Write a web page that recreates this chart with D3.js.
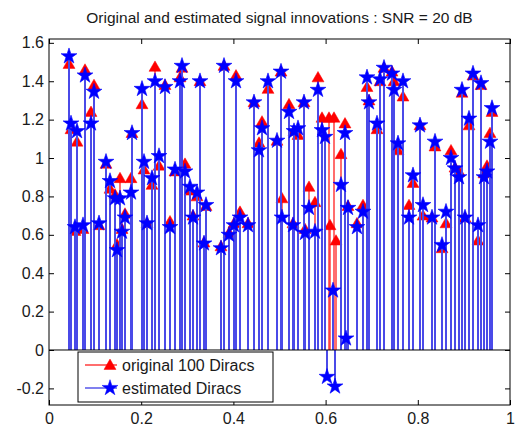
<!DOCTYPE html>
<html>
<head>
<script src="https://cdnjs.cloudflare.com/ajax/libs/d3/7.8.5/d3.min.js"></script>
<style>
body { margin: 0; background: #fff; }
text { font-family: "Liberation Sans", Arial, sans-serif; fill: #1a1a1a; }
</style>
</head>
<body>
<script>

// data
var diracPos = [0.043,0.048,0.056,0.061,0.074,0.078,0.091,0.098,0.108,0.124,
                0.132,0.143,0.148,0.154,0.158,0.165,0.178,0.180,0.202,0.206,
                0.213,0.223,0.230,0.239,0.252,0.262,0.273,0.284,0.289,0.295,
                0.306,0.312,0.321,0.328,0.336,0.341,0.373,0.380,0.390,0.401,
                0.406,0.414,0.432,0.445,0.456,0.462,0.475,0.495,0.503,0.505,
                0.521,0.529,0.531,0.540,0.553,0.555,0.564,0.577,0.584,0.592,
                0.633,0.642,0.649,0.668,0.681,0.690,0.694,0.711,0.718,0.727,
                0.744,0.748,0.757,0.768,0.781,0.790,0.805,0.811,0.831,0.837,
                0.852,0.861,0.872,0.881,0.889,0.896,0.902,0.911,0.920,0.931,
                0.937,0.944,0.950,0.957,0.962];

var original = [1.49,1.15,0.62,1.085,0.63,1.46,1.24,1.38,0.65,0.97,
                0.84,0.81,0.55,0.895,0.63,0.71,0.895,1.13,1.28,0.94,
                0.66,0.86,1.475,0.96,1.38,0.67,0.93,1.42,1.47,0.97,
                0.83,0.70,0.80,1.40,0.56,0.75,0.54,1.48,0.61,0.66,
                1.43,0.72,0.66,1.29,1.08,1.19,1.36,1.09,1.45,0.79,
                1.28,0.66,1.14,1.12,1.29,0.63,0.85,0.77,1.42,1.21,
                1.02,1.18,0.75,0.66,0.755,1.37,1.30,1.15,1.40,1.47,
                1.45,1.40,1.04,1.32,0.755,0.87,1.17,0.70,0.69,1.06,
                0.53,0.66,1.04,0.95,0.93,1.34,0.69,1.17,1.43,0.57,
                1.38,0.92,0.96,1.13,1.24];

var estimated = [1.53,1.18,0.64,1.14,0.65,1.43,1.18,1.345,0.66,0.98,
                 0.88,0.79,0.52,0.79,0.616,0.69,0.82,1.13,1.36,0.98,
                 0.66,0.895,1.40,1.01,1.37,0.64,0.94,1.40,1.48,0.93,
                 0.85,0.69,0.82,1.40,0.555,0.755,0.53,1.48,0.60,0.65,
                 1.40,0.69,0.65,1.29,1.04,1.155,1.40,1.09,1.45,0.69,
                 1.24,0.65,1.14,1.155,1.29,0.61,0.74,0.616,1.355,1.145,
                 0.86,1.13,0.74,0.64,0.72,1.42,1.29,1.18,1.41,1.47,
                 1.44,1.355,1.076,1.40,0.69,0.91,1.17,0.755,0.69,1.085,
                 0.547,0.72,1.00,0.946,0.90,1.355,0.69,1.205,1.44,0.65,
                 1.39,0.90,0.93,1.085,1.26];

// around x = 0.6 the two sets do not pair up
var extraOrigPos = [0.607,0.610,0.618,0.623];
var extraOrigAmp = [1.21,0.65,1.21,0.57];
var extraEstPos = [0.599,0.603,0.616,0.620,0.644];
var extraEstAmp = [1.11,-0.14,0.31,-0.19,0.06];

var xTicks = [0,0.2,0.4,0.6,0.8,1];
var yTicks = [-0.2,0,0.2,0.4,0.6,0.8,1,1.2,1.4,1.6];

var titleText = "Original and estimated signal innovations : SNR = 20 dB";
var legendNames = ["original 100 Diracs","estimated Diracs"];

// layout
var width = 528, height = 430,
    plotL = 49, plotR = 510, plotT = 39, plotB = 405;

var origData = diracPos.map(function(p,i){ return {x:p, y:original[i]}; })
    .concat(extraOrigPos.map(function(p,i){ return {x:p, y:extraOrigAmp[i]}; }));
var estData = diracPos.map(function(p,i){ return {x:p, y:estimated[i]}; })
    .concat(extraEstPos.map(function(p,i){ return {x:p, y:extraEstAmp[i]}; }));

var xScale = d3.scaleLinear().domain([0,1]).range([plotL,plotR]);
var yScale = d3.scaleLinear().domain([-0.2865,1.62]).range([plotB,plotT]);
var sx = function(d){ return Math.round(xScale(d.x)); };

var svg = d3.select("body").append("svg")
    .attr("width", width).attr("height", height);

svg.append("rect").attr("width",width).attr("height",height).attr("fill","#fff");

var fmt = function(d){ return String(+d.toFixed(1)); };

// axes, ticks pointing inward
var gx = svg.append("g").attr("transform","translate(0,"+plotB+")")
    .call(d3.axisBottom(xScale).tickValues(xTicks).tickSize(-5).tickPadding(8).tickFormat(fmt));
var gxt = svg.append("g").attr("transform","translate(0,"+plotT+")")
    .call(d3.axisTop(xScale).tickValues(xTicks).tickSize(-5).tickFormat(""));
var gy = svg.append("g").attr("transform","translate("+plotL+",0)")
    .call(d3.axisLeft(yScale).tickValues(yTicks).tickSize(-5).tickPadding(5).tickFormat(fmt));
var gyr = svg.append("g").attr("transform","translate("+plotR+",0)")
    .call(d3.axisRight(yScale).tickValues(yTicks).tickSize(-5).tickFormat(""));

[gx,gxt,gy,gyr].forEach(function(g){
  g.select(".domain").remove();
  g.selectAll(".tick line").attr("stroke","#000");
  g.selectAll("text").style("font-size","16px").attr("fill","#1a1a1a");
});

// stems: red first, blue drawn over them
var stems = svg.append("g");
stems.selectAll(".rs").data(origData).enter().append("line")
    .attr("x1",sx).attr("x2",sx)
    .attr("y1",yScale(0))
    .attr("y2",function(d){ return yScale(d.y); })
    .attr("stroke","#ff3030").attr("stroke-width",1.4);

var tri = d3.symbol().type(d3.symbolTriangle).size(62);
stems.selectAll(".rm").data(origData).enter().append("path")
    .attr("d",tri)
    .attr("transform",function(d){ return "translate("+sx(d)+","+(yScale(d.y)+1)+")"; })
    .attr("fill","#ff0000").attr("stroke","#ff0000").attr("stroke-width",0.5);

stems.selectAll(".bs").data(estData).enter().append("line")
    .attr("x1",sx).attr("x2",sx)
    .attr("y1",yScale(0))
    .attr("y2",function(d){ return yScale(d.y); })
    .attr("stroke","#4a4ae8").attr("stroke-width",2);

var star = d3.symbol().type(d3.symbolStar).size(78);
stems.selectAll(".bm").data(estData).enter().append("path")
    .attr("d",star)
    .attr("transform",function(d){ return "translate("+sx(d)+","+yScale(d.y)+")"; })
    .attr("fill","#0000ff").attr("stroke","#0000ff").attr("stroke-width",0.6);

// baseline
svg.append("line")
    .attr("x1",xScale(0)).attr("x2",xScale(1))
    .attr("y1",yScale(0)).attr("y2",yScale(0))
    .attr("stroke","#000").attr("stroke-width",1);

// plot box
svg.append("rect")
    .attr("x",plotL).attr("y",plotT)
    .attr("width",plotR-plotL).attr("height",plotB-plotT)
    .attr("fill","none").attr("stroke","#000").attr("stroke-width",1);

// title
svg.append("text")
    .attr("x",(plotL+plotR)/2).attr("y",23)
    .attr("text-anchor","middle")
    .style("font-size","15.5px")
    .text(titleText);

// legend
var lg = svg.append("g");
lg.append("rect").attr("x",78).attr("y",352).attr("width",195).attr("height",50)
    .attr("fill","#fff").attr("stroke","#000").attr("stroke-width",1);
var legendColors = ["#ff3030","#4a4ae8"];
var legendMarks = [tri, star];
var legendFill = ["#ff0000","#0000ff"];
legendNames.forEach(function(name,i){
  var cy = 365 + i*23;
  lg.append("line").attr("x1",85).attr("x2",117).attr("y1",cy).attr("y2",cy)
      .attr("stroke",legendColors[i]).attr("stroke-width",1.4);
  lg.append("path").attr("d",legendMarks[i])
      .attr("transform","translate(110,"+(cy+(i==0?1:0))+")")
      .attr("fill",legendFill[i]).attr("stroke",legendFill[i]).attr("stroke-width",0.5);
  lg.append("text").attr("x",122).attr("y",cy+6)
      .style("font-size","16px").text(name);
});

</script>
</body>
</html>
